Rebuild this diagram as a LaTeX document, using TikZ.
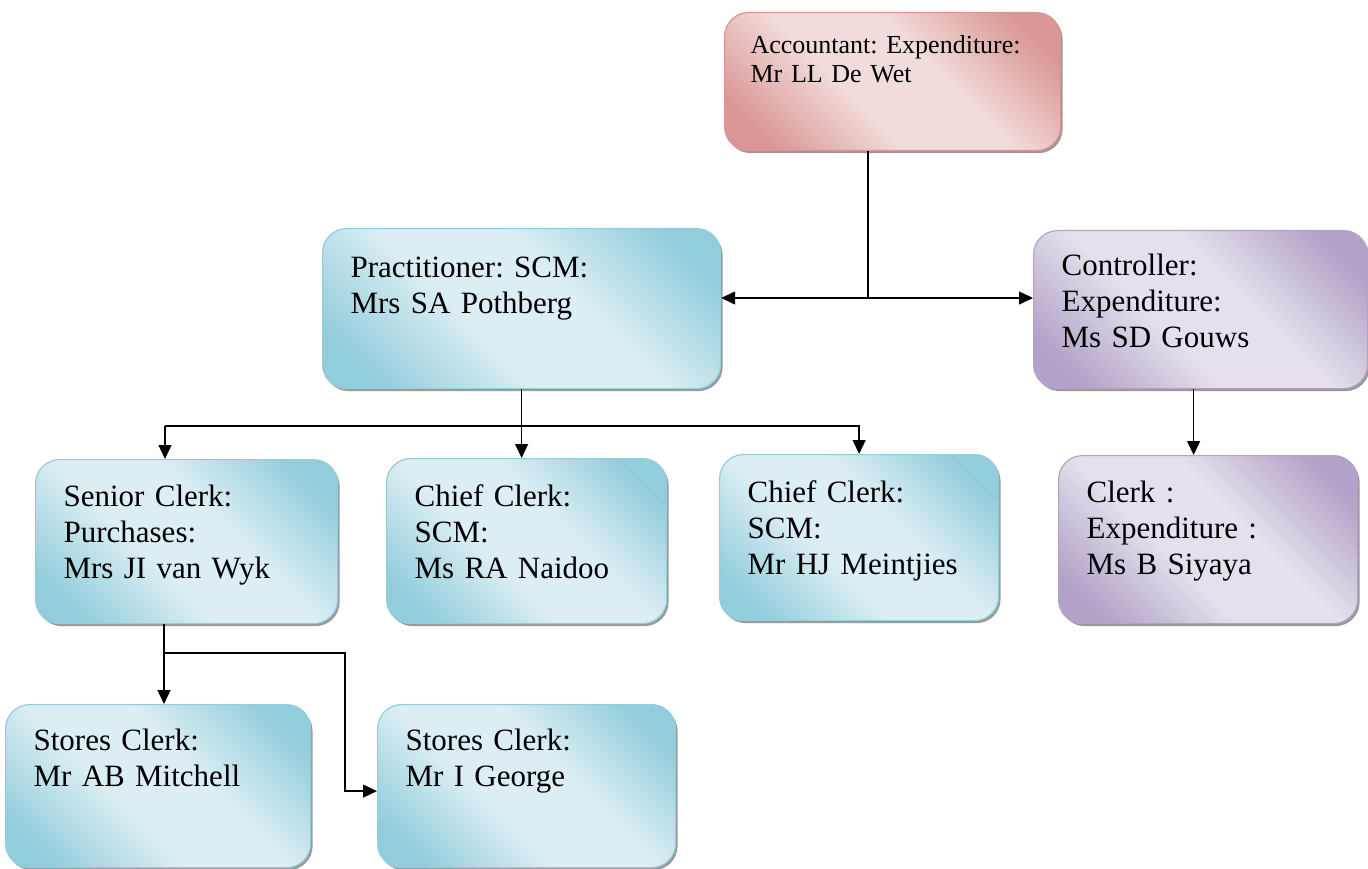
\documentclass[tikz,border=0pt]{standalone}
\usepackage{fontspec}
\setmainfont{Liberation Serif}
\usepackage{tikz}
\usetikzlibrary{arrows.meta,shadows}
\definecolor{bluedark}{RGB}{146,205,220}
\definecolor{bluelight}{RGB}{220,238,243}
\definecolor{reddark}{RGB}{217,150,148}
\definecolor{redlight}{RGB}{242,220,219}
\definecolor{purpledark}{RGB}{178,162,199}
\definecolor{purplelight}{RGB}{229,224,236}
\pgfdeclarehorizontalshading{blueshade}{100bp}{color(0bp)=(bluedark); color(22bp)=(bluedark); color(42bp)=(bluelight); color(58bp)=(bluelight); color(78bp)=(bluedark); color(100bp)=(bluedark)}
\pgfdeclarehorizontalshading{redshade}{100bp}{color(0bp)=(reddark); color(22bp)=(reddark); color(42bp)=(redlight); color(58bp)=(redlight); color(78bp)=(reddark); color(100bp)=(reddark)}
\pgfdeclarehorizontalshading{purpleshade}{100bp}{color(0bp)=(purpledark); color(22bp)=(purpledark); color(42bp)=(purplelight); color(58bp)=(purplelight); color(78bp)=(purpledark); color(100bp)=(purpledark)}
\tikzset{
  orgbox/.style = {rectangle, rounded corners=24pt, line width=1.2pt, anchor=north west,
                   inner xsep=28pt, inner ysep=0pt, align=left, shading angle=45,
                   font=\fontsize{31}{36}\selectfont,
                   drop shadow={shadow xshift=2pt, shadow yshift=-2.5pt, fill=black!40, opacity=1}},
  bluebox/.style = {orgbox, draw=bluedark, shading=blueshade},
  redbox/.style = {orgbox, draw=reddark, shading=redshade},
  purplebox/.style = {orgbox, draw=purpledark, shading=purpleshade},
  plain/.style = {line width=1.4pt},
  link/.style = {line width=1.4pt, -{Triangle[length=14pt,width=13pt]}},
  dlink/.style = {line width=1.4pt, {Triangle[length=14pt,width=13pt]}-{Triangle[length=14pt,width=13pt]}},
}
\frenchspacing

\begin{document}
\begin{tikzpicture}[x=1pt,y=-1pt]
\useasboundingbox (0,0) rectangle (1368,869);

\node [redbox, inner xsep=26pt, text width=284pt, text height=41pt, text depth=97pt,
       font=\fontsize{26}{29}\selectfont] (acct) at (724,12)
  {Accountant: Expenditure:\\Mr LL De Wet};
\node [bluebox, text width=342pt, text height=49pt, text depth=111pt] (prac) at (322,228)
  {Practitioner: SCM:\\Mrs SA Pothberg};
\node [purplebox, text width=278pt, text height=45pt, text depth=113pt] (ctrl) at (1033,230)
  {Controller:\\Expenditure:\\Ms SD Gouws};
\node [bluebox, text width=246pt, text height=47pt, text depth=117pt] (senior) at (35,459)
  {Senior Clerk:\\Purchases:\\Mrs JI van Wyk};
\node [bluebox, text width=224pt, text height=48pt, text depth=117pt] (chiefa) at (386,458)
  {Chief Clerk:\\SCM:\\Ms RA Naidoo};
\node [bluebox, text width=223pt, text height=48pt, text depth=118pt] (chiefb) at (719,454)
  {Chief Clerk:\\SCM:\\Mr HJ Meintjies};
\node [purplebox, text width=243pt, text height=47pt, text depth=121pt] (siyaya) at (1058,455)
  {Clerk :\\Expenditure :\\Ms B Siyaya};
\node [bluebox, text width=249pt, text height=46pt, text depth=117pt] (mitch) at (5,704)
  {Stores Clerk:\\Mr AB Mitchell};
\node [bluebox, text width=242pt, text height=46pt, text depth=117pt] (george) at (377,704)
  {Stores Clerk:\\Mr I George};

\coordinate (top) at (868,298);
\coordinate (bus) at (165,426);
\coordinate (fork) at (164,653);
\coordinate (bend) at (345,653);

\draw [plain] (top |- acct.south) -- (top);
\draw [dlink] (prac.east |- top) -- (ctrl.west |- top);
\draw [plain] (prac.south) -- (prac.south |- bus);
\draw [link] (bus) -- (bus |- senior.north);
\draw [link] (prac.south |- bus) -- (prac.south |- chiefa.north);
\draw [link] (bus) -| (chiefb.north);
\draw [link] ([xshift=-7pt]ctrl.south) -- ([xshift=-7pt]ctrl.south |- siyaya.north);
\draw [plain] (fork |- senior.south) -- (fork);
\draw [link] (fork) -- (fork |- mitch.north);
\draw [link] (fork) -- (bend) |- ([yshift=-5pt]george.west);
\end{tikzpicture}
\end{document}
